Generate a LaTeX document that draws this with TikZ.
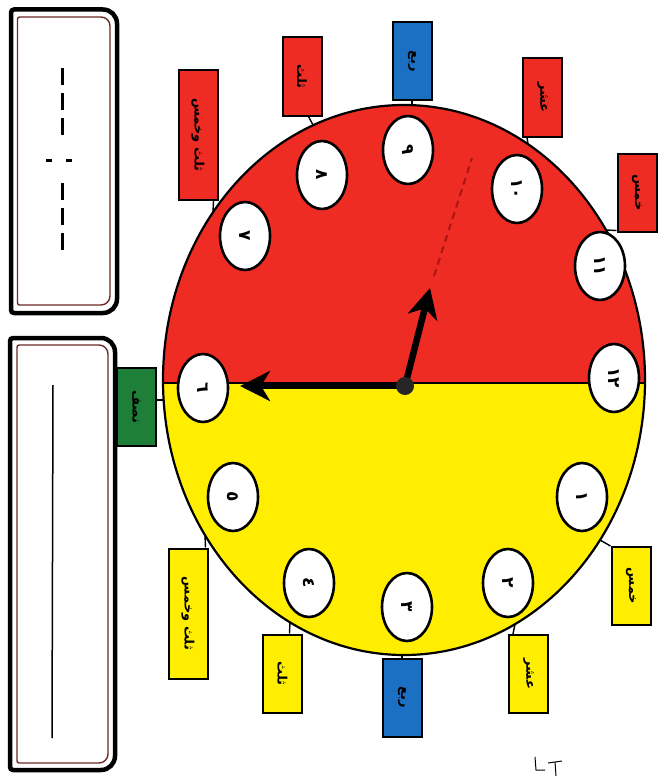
\documentclass[tikz,border=0pt]{standalone}
\usepackage{fontspec}
\usepackage{graphicx}
\usetikzlibrary{shapes.geometric,arrows.meta}
\newfontfamily\arabicfont[Script=Arabic]{DejaVu Sans}
\TeXXeTstate=1
\definecolor{clockred}{RGB}{238,44,36}
\definecolor{clockyellow}{RGB}{255,238,0}
\definecolor{tagblue}{RGB}{28,112,196}
\definecolor{taggreen}{RGB}{30,128,56}
\definecolor{rimbrown}{RGB}{110,40,40}
\definecolor{hintred}{RGB}{170,20,20}
\tikzset{
  numoval/.style={ellipse, draw=black, line width=2.6pt, fill=white, minimum width=50pt, minimum height=68pt, inner sep=0pt, font=\arabicfont\bfseries\fontsize{17}{17}\selectfont},
  tagbox/.style={rectangle, draw=black, line width=2pt, minimum width=39pt, minimum height=78pt, inner sep=0pt, font=\arabicfont\bfseries\fontsize{13}{13}\selectfont},
  tallbox/.style={tagbox, minimum height=130pt},
  link/.style={draw=black, line width=1.4pt},
  hand/.style={line width=6.5pt, -{Stealth[length=30pt,width=30pt,inset=9pt]}},
  outerrim/.style={draw=black, line width=4.5pt},
  innerrim/.style={draw=rimbrown, line width=1.4pt},
}
\newcommand{\rtxt}[1]{\rotatebox[origin=c]{-90}{#1}}
\newcommand{\rar}[1]{\rotatebox[origin=c]{-90}{\beginR #1\endR}}
\begin{document}
\begin{tikzpicture}[x=1pt,y=-1pt]
\useasboundingbox (0,0) rectangle (667,776);
\fill[white] (0,0) rectangle (667,776);

% left answer boxes
\draw[outerrim] (60,9.5) [rounded corners=14pt] -- (117,9.5) -- (117,313) -- (60,313) [rounded corners=3pt] -- (11,313) -- (11,9.5) -- cycle;
\draw[innerrim] (60,17) [rounded corners=9pt] -- (110,17) -- (110,305) -- (60,305) [rounded corners=2pt] -- (17.5,305) -- (17.5,17) -- cycle;
\draw[line width=3pt, dash pattern=on 17pt off 8pt] (62,68) -- (62,137);
\draw[line width=3pt, dash pattern=on 17pt off 8pt] (62,183) -- (62,253);
\fill (46,158.5) rectangle (52,161.5);
\fill (66,158.5) rectangle (72,161.5);

\draw[outerrim] (60,338) [rounded corners=14pt] -- (115,338) -- (115,770) -- (60,770) [rounded corners=3pt] -- (10,770) -- (10,338) -- cycle;
\draw[innerrim] (60,345) [rounded corners=9pt] -- (108,345) -- (108,763) -- (60,763) [rounded corners=2pt] -- (17,763) -- (17,345) -- cycle;
\draw[line width=1.5pt] (53,385) -- (52,738);

% clock face
\begin{scope}
  \clip (404,380) ellipse [x radius=241, y radius=275];
  \fill[clockred] (150,95) rectangle (660,383);
  \fill[clockyellow] (150,383) rectangle (660,665);
\end{scope}
\draw[line width=2.2pt] (404,380) ellipse [x radius=241, y radius=275];
\draw[line width=2pt] (163,383) -- (645,383);

% hour numbers
\node[numoval] (n12) at (614,378) {\rtxt{١٢}};
\node[numoval] (n1) at (582,497) {\rtxt{١}};
\node[numoval] (n2) at (508,583) {\rtxt{٢}};
\node[numoval] (n3) at (407,607) {\rtxt{٣}};
\node[numoval] (n4) at (309,583) {\rtxt{٤}};
\node[numoval] (n5) at (233,497) {\rtxt{٥}};
\node[numoval] (n6) at (203,388) {\rtxt{٦}};
\node[numoval] (n7) at (245,236) {\rtxt{٧}};
\node[numoval] (n8) at (322,175) {\rtxt{٨}};
\node[numoval] (n9) at (408,150) {\rtxt{٩}};
\node[numoval] (n10) at (517,189) {\rtxt{١٠}};
\node[numoval] (n11) at (600,266) {\rtxt{١١}};

% hands
\coordinate (hub) at (405,386);
\coordinate (mtip) at (240,386);
\coordinate (htip) at (430,288);
\coordinate (hstart) at (434,276);
\coordinate (hint) at (472,158);
\draw[hintred, line width=2pt, dash pattern=on 7pt off 5pt] (hstart) -- (hint);
\draw[hand] (hub) -- (mtip);
\draw[hand] (hub) -- (htip);
\fill[black!85] (hub) circle[radius=9];

% minute tags
\node[tagbox, fill=clockyellow] (t1) at (631,586) {\rar{خمس}};
\node[tagbox, fill=clockyellow] (t2) at (528.5,674) {\rar{عشر}};
\node[tagbox, fill=tagblue] (t3) at (402,697.5) {\rar{ربع}};
\node[tagbox, fill=clockyellow] (t4) at (282.5,673.5) {\rar{ثلث}};
\node[tallbox, fill=clockyellow] (t5) at (188,613.5) {\rar{ثلث وخمس}};
\node[tagbox, fill=taggreen] (t6) at (136.5,407) {\rar{نصف}};
\node[tallbox, fill=clockred] (t7) at (198,135) {\rar{ثلث وخمس}};
\node[tagbox, fill=clockred] (t8) at (302,76.5) {\rar{ثلث}};
\node[tagbox, fill=tagblue] (t9) at (412,61) {\rar{ربع}};
\node[tagbox, fill=clockred] (t10) at (542.5,97.5) {\rar{عشر}};
\node[tagbox, fill=clockred] (t11) at (637,192.5) {\rar{خمس}};

% tag links to the rim
\coordinate (r1) at (600,540);
\coordinate (r2) at (515,624);
\coordinate (r3) at (402,655);
\coordinate (r4) at (290,622);
\coordinate (r5) at (205,535);
\coordinate (r6) at (164,400);
\coordinate (r7) at (213,212);
\coordinate (r8) at (313,125);
\coordinate (r9) at (412,105);
\coordinate (r10) at (528,144);
\coordinate (r11) at (606,230);
\draw[link] (t1.north west) -- (r1);
\draw[link] (t2.north west) ++(5,0) -- (r2);
\draw[link] (t3.north) -- (r3);
\draw[link] (t4.north) ++(7,0) -- (r4);
\draw[link] (t5.north east) ++(-3,0) -- (r5);
\draw[link] (t6.east) ++(0,-7) -- (r6);
\draw[link] (t7.south east) ++(-5,0) -- (r7);
\draw[link] (t8.south east) ++(-14,0) -- (r8);
\draw[link] (t9.south) -- (r9);
\draw[link] (t10.south west) ++(5,0) -- (r10);
\draw[link] (t11.south west) ++(0,-2) -- (r11);

% stray pen mark
\draw[line width=1pt] (535,757) -- (536,770) -- (545,770);
\draw[line width=1pt] (548,763) -- (562,761);
\draw[line width=1pt] (555,762) -- (556,776);
\end{tikzpicture}
\end{document}
